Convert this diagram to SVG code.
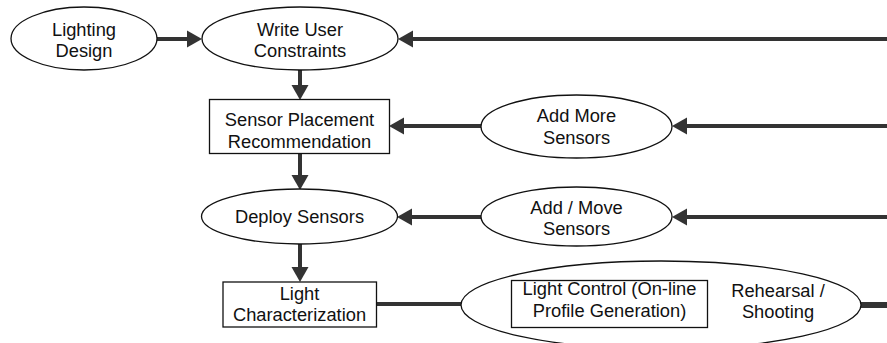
<svg xmlns="http://www.w3.org/2000/svg" width="887" height="343" viewBox="0 0 887 343">
<style>
.n{fill:#fff;stroke:#111;stroke-width:1.3}
.t{font-family:"Liberation Sans",Arial,sans-serif;font-size:18.3px;fill:#111;text-anchor:middle}
.c{fill:none;stroke:#333;stroke-width:4}
</style>
<defs>
<marker id="ah" markerUnits="userSpaceOnUse" markerWidth="16" markerHeight="18" refX="0" refY="8.5" orient="auto" overflow="visible">
<path d="M0,0 L15,8.5 L0,17 z" fill="#333"/>
</marker>
</defs>
<g id="connectors">
<line class="c" x1="157" y1="39" x2="187" y2="39" marker-end="url(#ah)"/>
<line class="c" x1="887" y1="39" x2="413" y2="39" marker-end="url(#ah)"/>
<line class="c" x1="300" y1="70" x2="300" y2="85" marker-end="url(#ah)"/>
<line class="c" x1="481" y1="126" x2="404" y2="126" marker-end="url(#ah)"/>
<line class="c" x1="887" y1="126" x2="687" y2="126" marker-end="url(#ah)"/>
<line class="c" x1="300" y1="153" x2="300" y2="175" marker-end="url(#ah)"/>
<line class="c" x1="481" y1="217" x2="412" y2="217" marker-end="url(#ah)"/>
<line class="c" x1="887" y1="217" x2="687" y2="217" marker-end="url(#ah)"/>
<line class="c" x1="300" y1="244" x2="300" y2="267" marker-end="url(#ah)"/>
<line class="c" x1="376" y1="304" x2="462" y2="304"/>
<line class="c" x1="860" y1="305" x2="887" y2="305" style="stroke-width:6"/>
</g>
<g id="lighting-design">
<ellipse class="n" cx="84" cy="38.5" rx="73" ry="31.5"/>
<text class="t" x="84" y="36">Lighting</text>
<text class="t" x="84" y="57">Design</text>
</g>
<g id="write-user-constraints">
<ellipse class="n" cx="300" cy="38.5" rx="98" ry="31.5"/>
<text class="t" x="300" y="36">Write User</text>
<text class="t" x="300" y="57">Constraints</text>
</g>
<g id="sensor-placement">
<rect class="n" x="209.5" y="99.5" width="180" height="54"/>
<text class="t" x="299.5" y="126">Sensor Placement</text>
<text class="t" x="299.5" y="148">Recommendation</text>
</g>
<g id="add-more-sensors">
<ellipse class="n" cx="576.5" cy="126.5" rx="95.5" ry="31.5"/>
<text class="t" x="576.5" y="122">Add More</text>
<text class="t" x="576.5" y="143.5">Sensors</text>
</g>
<g id="deploy-sensors">
<ellipse class="n" cx="299.5" cy="216.5" rx="98" ry="27.5"/>
<text class="t" x="299.5" y="223">Deploy Sensors</text>
</g>
<g id="add-move-sensors">
<ellipse class="n" cx="576.5" cy="216.5" rx="95.5" ry="29.5"/>
<text class="t" x="576.5" y="214">Add / Move</text>
<text class="t" x="576.5" y="235">Sensors</text>
</g>
<g id="light-characterization">
<rect class="n" x="223" y="282" width="153.5" height="45"/>
<text class="t" x="299.5" y="300">Light</text>
<text class="t" x="299.5" y="321">Characterization</text>
</g>
<g id="rehearsal-shooting">
<ellipse class="n" cx="661" cy="305" rx="200" ry="44"/>
<text class="t" x="778" y="296.5">Rehearsal /</text>
<text class="t" x="778" y="318">Shooting</text>
</g>
<g id="light-control">
<rect class="n" x="511.5" y="280.5" width="196" height="47"/>
<text class="t" x="609.5" y="295">Light Control (On-line</text>
<text class="t" x="609.5" y="316.5">Profile Generation)</text>
</g>
</svg>
